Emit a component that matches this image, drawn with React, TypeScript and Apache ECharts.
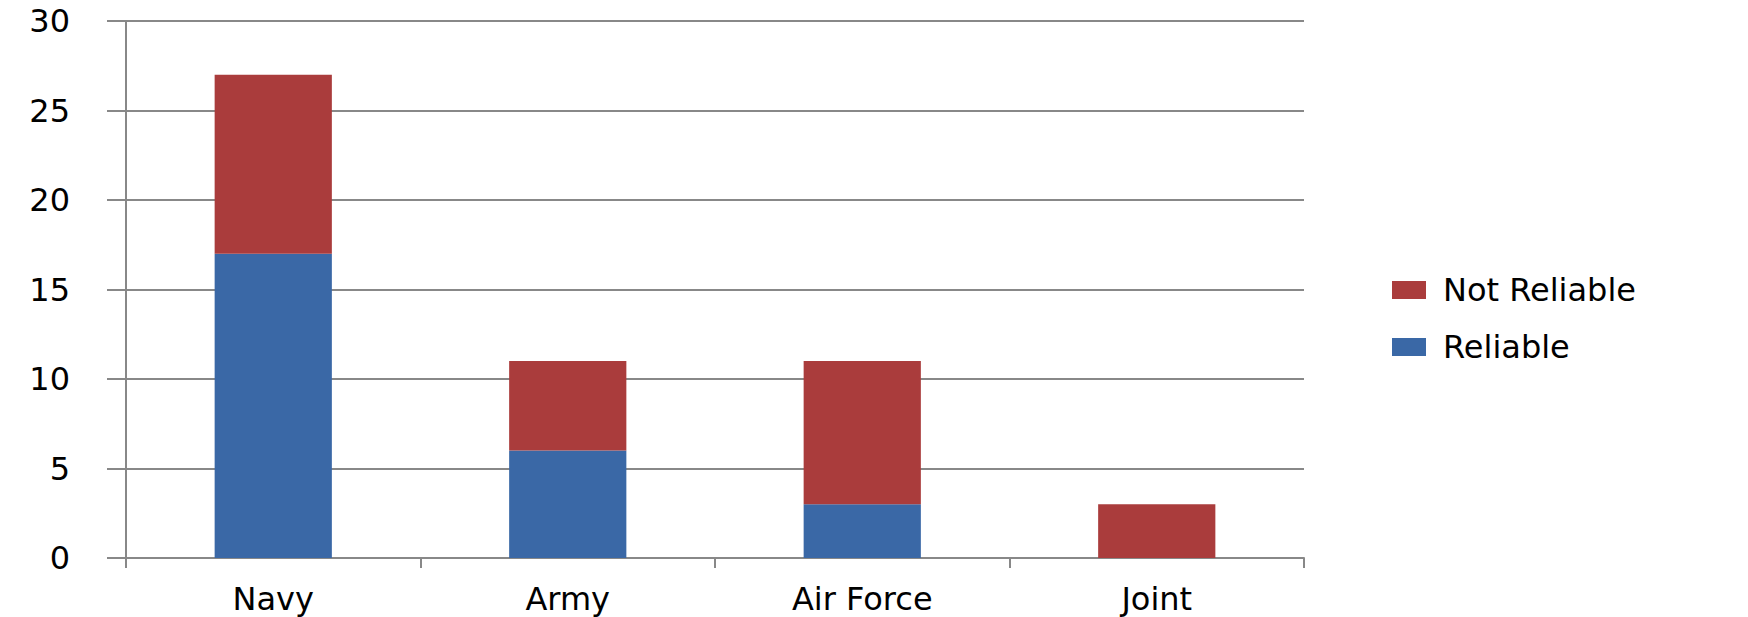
import React, { useEffect, useRef } from "react";
import * as echarts from "echarts";

const categories = ["Navy", "Army", "Air Force", "Joint"];
const reliable = [17, 6, 3, 0];
const notReliable = [10, 5, 8, 3];
const legendOrder = ["Not Reliable", "Reliable"];

const FONT = "DejaVu Sans";
const GRAY = "#888888";

export default function App() {
  const ref = useRef<HTMLDivElement>(null);
  useEffect(() => {
    if (!ref.current) return;
    const chart = echarts.init(ref.current, null, { renderer: "svg" });
    chart.setOption({
      animation: false,
      backgroundColor: "#ffffff",
      grid: { left: 126, right: 444, top: 21, bottom: 59, containLabel: false },
      legend: {
        orient: "vertical",
        left: 1387,
        top: 269,
        icon: "rect",
        itemWidth: 34,
        itemHeight: 18,
        itemGap: 25,
        data: legendOrder,
        textStyle: {
          fontFamily: FONT,
          fontSize: 32,
          lineHeight: 30,
          color: "#000",
          padding: [0, 0, 0, 12],
        },
      },
      xAxis: {
        type: "category",
        data: categories,
        axisLine: { lineStyle: { color: GRAY, width: 2 } },
        axisTick: { show: true, length: 10, lineStyle: { color: GRAY, width: 2 } },
        axisLabel: { fontFamily: FONT, fontSize: 32, color: "#000", margin: 25 },
      },
      yAxis: {
        type: "value",
        min: 0,
        max: 30,
        interval: 5,
        axisLine: { show: true, lineStyle: { color: GRAY, width: 2 } },
        axisTick: { show: true, length: 19, lineStyle: { color: GRAY, width: 2 } },
        splitLine: { lineStyle: { color: GRAY, width: 2 } },
        axisLabel: { fontFamily: FONT, fontSize: 32, color: "#000", margin: 56 },
      },
      series: [
        {
          name: "Reliable",
          type: "bar",
          stack: "total",
          data: reliable,
          barWidth: "39.8%",
          itemStyle: { color: "#3A68A6" },
        },
        {
          name: "Not Reliable",
          type: "bar",
          stack: "total",
          data: notReliable,
          barWidth: "39.8%",
          itemStyle: { color: "#AA3C3C" },
        },
      ],
    });
    return () => chart.dispose();
  }, []);
  return (
    <div
      ref={ref}
      style={{ position: "fixed", left: 0, top: 0, width: 1748, height: 617 }}
    />
  );
}
